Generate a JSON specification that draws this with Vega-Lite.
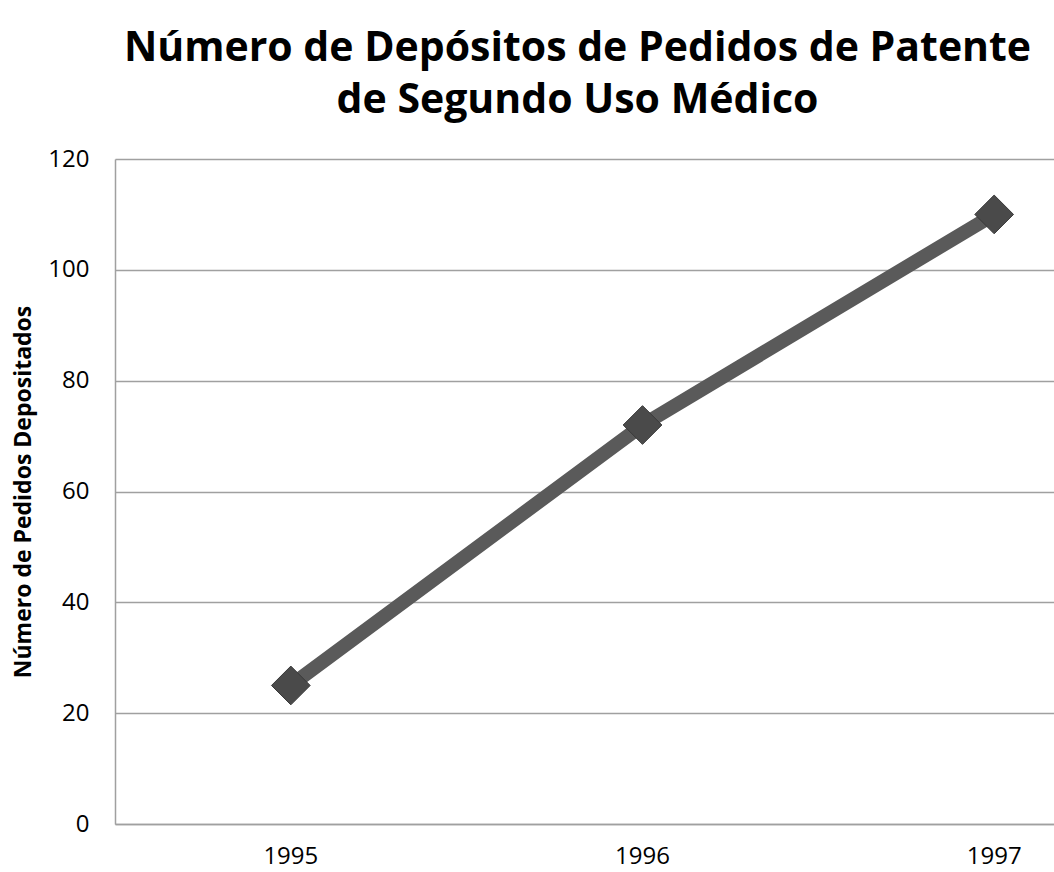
{
  "$schema": "https://vega.github.io/schema/vega-lite/v6.json",
  "width": 1055,
  "height": 665,
  "autosize": {"type": "none"},
  "padding": {"left": 115, "top": 159, "right": 0, "bottom": 48},
  "background": "white",
  "title": {
    "text": ["Número de Depósitos de Pedidos de Patente", "de Segundo Uso Médico"],
    "font": "Open Sans",
    "fontSize": 41,
    "fontWeight": "bold",
    "color": "#000000",
    "anchor": "middle",
    "frame": "group",
    "dx": -65,
    "lineHeight": 52,
    "offset": 25
  },
  "data": {
    "values": [
      {"ano": "1995", "pedidos": 25},
      {"ano": "1996", "pedidos": 72},
      {"ano": "1997", "pedidos": 110}
    ]
  },
  "encoding": {
    "x": {
      "field": "ano",
      "type": "ordinal",
      "scale": {"type": "band", "paddingInner": 0, "paddingOuter": 0},
      "axis": {
        "title": null,
        "labelAngle": 0,
        "labelFont": "Open Sans",
        "labelFontSize": 24,
        "labelColor": "#000000",
        "labelPadding": 20,
        "ticks": false,
        "domain": true,
        "domainColor": "#a0a0a0",
        "domainWidth": 1.5,
        "grid": false
      }
    },
    "y": {
      "field": "pedidos",
      "type": "quantitative",
      "scale": {"domain": [0, 120], "nice": false},
      "axis": {
        "values": [0, 20, 40, 60, 80, 100, 120],
        "title": "Número de Pedidos Depositados",
        "titleFont": "Open Sans",
        "titleFontSize": 23,
        "titleFontWeight": "bold",
        "titleColor": "#000000",
        "titlePadding": 12,
        "labelFont": "Open Sans",
        "labelFontSize": 24,
        "labelColor": "#000000",
        "labelPadding": 26,
        "ticks": false,
        "domain": true,
        "domainColor": "#a0a0a0",
        "domainWidth": 1.5,
        "grid": true,
        "gridColor": "#a0a0a0",
        "gridWidth": 1.5
      }
    }
  },
  "layer": [
    {
      "mark": {"type": "line", "color": "#5a5a5a", "strokeWidth": 14, "strokeCap": "butt"}
    },
    {
      "mark": {"type": "point", "shape": "diamond", "filled": true, "size": 1500, "color": "#4a4a4a", "stroke": "#3a3a3a", "strokeWidth": 1, "opacity": 1}
    }
  ],
  "config": {"view": {"stroke": null}}
}
